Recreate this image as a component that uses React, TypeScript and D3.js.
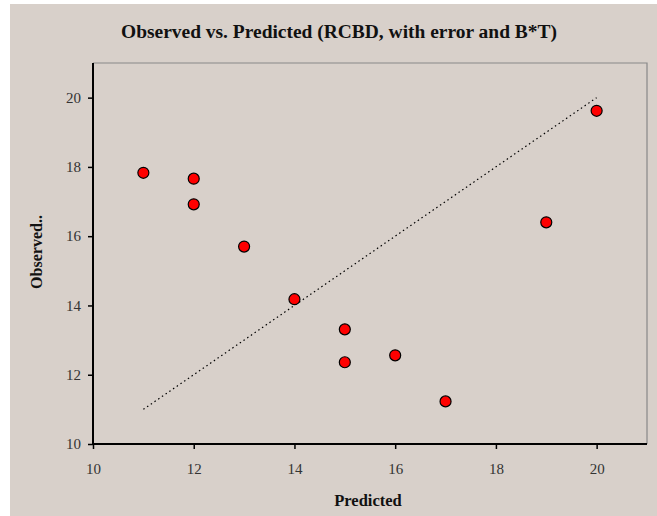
import { useRef, useEffect } from 'react';
import * as d3 from 'd3';

const predicted = [11, 12, 12, 13, 14, 15, 15, 16, 17, 19, 20];
const observed = [17.83, 17.66, 16.92, 15.7, 14.18, 13.31, 12.36, 12.56, 11.23, 16.4, 19.62];
const xTicks = [10, 12, 14, 16, 18, 20];
const yTicks = [10, 12, 14, 16, 18, 20];
const refLine = [11, 20];

const W = 657;
const H = 516;
const margin = { left: 93, top: 63, right: 10, bottom: 72 };
const font = '"Liberation Serif", "DejaVu Serif", serif';

const App = () => {
  const svgRef = useRef<SVGSVGElement>(null);

  useEffect(() => {
    const svg = d3.select(svgRef.current);
    svg.selectAll('*').remove();

    const xScale = d3.scaleLinear().domain([10, 21]).range([margin.left, W - margin.right]);
    const yScale = d3.scaleLinear().domain([10, 21]).range([H - margin.bottom, margin.top]);

    svg.append('rect')
      .attr('x', 10).attr('y', 4)
      .attr('width', W - 10).attr('height', H - 4)
      .attr('fill', '#d8d0ca');

    svg.append('text')
      .attr('x', 339).attr('y', 38)
      .attr('text-anchor', 'middle')
      .attr('font-family', font)
      .attr('font-weight', 'bold')
      .attr('font-size', 18)
      .attr('textLength', 436)
      .attr('lengthAdjust', 'spacingAndGlyphs')
      .attr('fill', '#111')
      .text('Observed vs. Predicted (RCBD, with error and B*T)');

    // top/right frame
    svg.append('path')
      .attr('d', `M${xScale(10)},${yScale(21)}H${xScale(21)}V${yScale(10)}`)
      .attr('fill', 'none')
      .attr('stroke', '#888')
      .attr('stroke-width', 1.2);

    const xAxis = d3.axisBottom(xScale).tickValues(xTicks).tickSize(5).tickPadding(14).tickSizeOuter(0);
    const gx = svg.append('g')
      .attr('transform', `translate(0,${yScale(10)})`)
      .call(xAxis);
    gx.select('.domain').attr('stroke', '#000').attr('stroke-width', 2)
      .attr('d', `M${xScale(10)},0H${xScale(21)}`);
    gx.selectAll('.tick line').attr('stroke', '#000').attr('stroke-width', 1.5);
    gx.selectAll('.tick text')
      .attr('font-family', font).attr('font-size', 15).attr('fill', '#333');

    const yAxis = d3.axisLeft(yScale).tickValues(yTicks).tickSize(5).tickPadding(7).tickSizeOuter(0);
    const gy = svg.append('g')
      .attr('transform', `translate(${xScale(10)},0)`)
      .call(yAxis);
    gy.select('.domain').attr('stroke', '#000').attr('stroke-width', 2)
      .attr('d', `M0,${yScale(10)}V${yScale(21)}`);
    gy.selectAll('.tick line').attr('stroke', '#000').attr('stroke-width', 1.5);
    gy.selectAll('.tick text')
      .attr('font-family', font).attr('font-size', 15).attr('fill', '#333');

    svg.append('line')
      .attr('x1', xScale(refLine[0])).attr('y1', yScale(refLine[0]))
      .attr('x2', xScale(refLine[1])).attr('y2', yScale(refLine[1]))
      .attr('stroke', '#000')
      .attr('stroke-width', 1.2)
      .attr('stroke-dasharray', '1.5,3');

    svg.selectAll('.pt')
      .data(predicted)
      .join('circle')
      .attr('class', 'pt')
      .attr('cx', (d) => xScale(d))
      .attr('cy', (d, i) => yScale(observed[i]))
      .attr('r', 5.5)
      .attr('fill', '#ff0000')
      .attr('stroke', '#000')
      .attr('stroke-width', 1.2);

    svg.append('text')
      .attr('x', 368).attr('y', 506)
      .attr('text-anchor', 'middle')
      .attr('font-family', font)
      .attr('font-weight', 'bold')
      .attr('font-size', 16.5)
      .attr('fill', '#111')
      .text('Predicted');

    svg.append('text')
      .attr('transform', `translate(42,252) rotate(-90)`)
      .attr('text-anchor', 'middle')
      .attr('font-family', font)
      .attr('font-weight', 'bold')
      .attr('font-size', 16)
      .attr('fill', '#111')
      .text('Observed..');
  }, []);

  return (
    <svg
      ref={svgRef}
      width={W}
      height={H}
      style={{ position: 'absolute', left: 0, top: 0, background: '#fff' }}
    />
  );
};

export default App;
